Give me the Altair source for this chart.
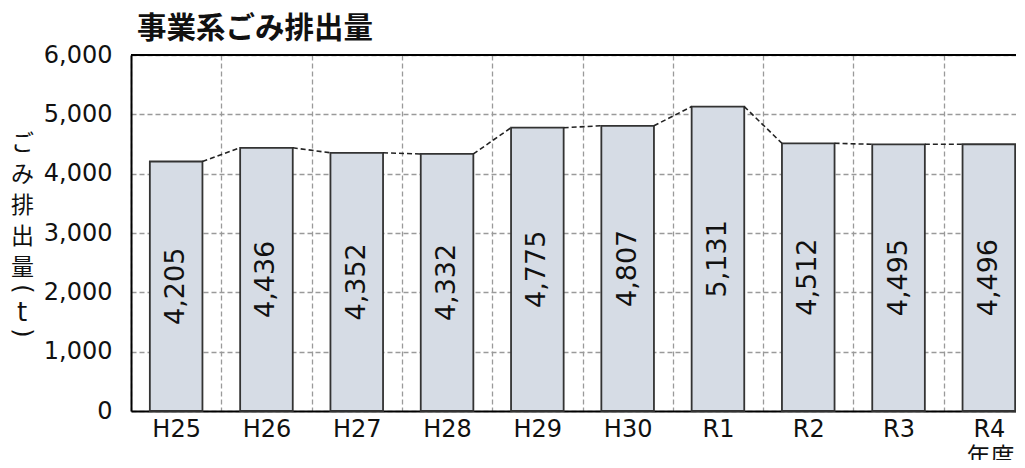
import altair as alt
import pandas as pd

years = ["H25", "H26", "H27", "H28", "H29", "H30", "R1", "R2", "R3", "R4"]
values = [4205, 4436, 4352, 4332, 4775, 4807, 5131, 4512, 4495, 4496]

df = pd.DataFrame({"year": years, "value": values})
seg = pd.DataFrame({
    "year": years[:-1],
    "next_year": years[1:],
    "value": values[:-1],
    "next_value": values[1:],
})

LAT = "DejaVu Sans, Noto Sans CJK JP"
JP = "Noto Sans CJK JP"
BAND = 0.5825
PLOT_W = 885
FULL_W = 903
H = 356

xscale = alt.Scale(domain=years, paddingInner=0, paddingOuter=0, range=[0, FULL_W])
yscale = alt.Scale(domain=[0, 6000], nice=False)

xaxis = alt.Axis(
    tickBand="extent", ticks=False, labelAngle=0, labelFont=LAT, labelFontSize=24,
    labelColor="#111111", labelPadding=6, labelBaseline="top",
    domainColor="#000000", domainWidth=2,
    grid=True, gridColor="#9a9a9a", gridDash=[5, 3], gridWidth=1.3,
    title="年度", titleFont=JP, titleFontSize=24, titleFontWeight="normal",
    titleColor="#111111", titleX=859, titleY=34, titleAnchor="start",
    titleAlign="center", titleBaseline="top",
)
yaxis = alt.Axis(
    values=[0, 1000, 2000, 3000, 4000, 5000, 6000], format=",.0f", ticks=False,
    labelFont=LAT, labelFontSize=24, labelColor="#111111", labelPadding=19,
    domainColor="#000000", domainWidth=2,
    grid=True, gridColor="#9a9a9a", gridDash=[5, 3], gridWidth=1.3,
    title=["ご", "み", "排", "出", "量"], titleFont=JP, titleFontSize=23,
    titleFontWeight="normal", titleColor="#111111", titleAngle=0,
    titleX=-109, titleY=77, titleAlign="center", titleBaseline="top",
    titleLineHeight=31,
)

bars = alt.Chart(df).mark_bar(
    width=alt.RelativeBandSize(BAND), fill="#D6DCE5", stroke="#333333", strokeWidth=1.8
).encode(
    x=alt.X("year:N", scale=xscale, axis=xaxis, sort=years),
    y=alt.Y("value:Q", scale=yscale, axis=yaxis),
)

labels = alt.Chart(df).transform_calculate(
    mid="datum.value / 2"
).mark_text(
    angle=270, font=LAT, fontSize=27, color="#111111", align="center", baseline="middle"
).encode(
    x=alt.X("year:N", scale=xscale, sort=years),
    y=alt.Y("mid:Q", scale=yscale),
    text=alt.Text("value:Q", format=","),
)

links = alt.Chart(seg).mark_rule(
    color="#222222", strokeWidth=1.6, strokeDash=[5, 3]
).encode(
    x=alt.X("year:N", scale=xscale, sort=years, bandPosition=0.5 + BAND / 2),
    x2=alt.X2("next_year", bandPosition=0.5 - BAND / 2),
    y=alt.Y("value:Q", scale=yscale),
    y2="next_value:Q",
)

top_border = alt.Chart(df).mark_rule(color="#000000", strokeWidth=2).encode(
    y=alt.datum(6000, scale=yscale)
)

one = pd.DataFrame({"t": [0]})
p_open = alt.Chart(one).mark_text(
    text="(", font="DejaVu Sans", fontSize=24, color="#111111",
    align="center", baseline="middle", angle=90,
).encode(x=alt.value(-109), y=alt.value(234))
p_t = alt.Chart(one).mark_text(
    text="t", font="DejaVu Sans", fontSize=26, color="#111111",
    align="center", baseline="middle",
).encode(x=alt.value(-109), y=alt.value(258))
p_close = alt.Chart(one).mark_text(
    text=")", font="DejaVu Sans", fontSize=24, color="#111111",
    align="center", baseline="middle", angle=90,
).encode(x=alt.value(-109), y=alt.value(278))

chart = alt.layer(bars, links, labels, top_border, p_open, p_t, p_close).properties(
    width=PLOT_W, height=H,
    title=alt.Title("事業系ごみ排出量", anchor="start", frame="group", font=JP,
                    fontSize=29.5, fontWeight="bold", color="#111111", dx=6, dy=2,
                    offset=1),
    autosize=alt.AutoSizeParams(type="none"),
    padding={"left": 123, "top": 47, "right": 0, "bottom": 49},
).configure_view(stroke=None).configure(background="white")

chart.save("out.html", embed_options={"renderer": "svg", "actions": False})
